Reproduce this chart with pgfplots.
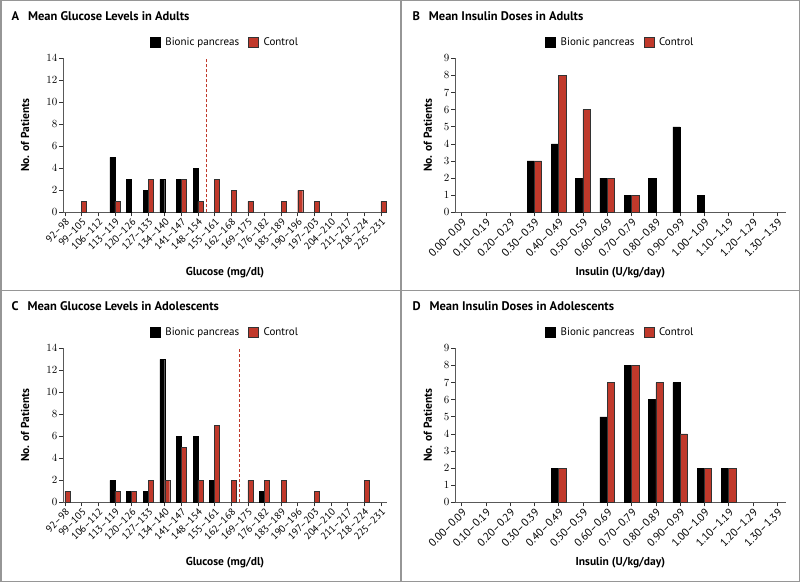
\documentclass[border=0pt]{standalone}
\usepackage{pgfplots}
\pgfplotsset{compat=1.18}
\usepackage{fontspec}
\setmainfont{PT Sans}
\definecolor{ctrl}{RGB}{192,57,43}
\definecolor{framegray}{RGB}{150,150,150}

\pgfplotsset{
  panel/.style={
    scale only axis, height=154pt, ybar=0pt, bar width=0.3,
    ymin=0, enlargelimits=false,
    axis lines=left, axis line style={-, black!65, line width=0.8pt},
    tick style={black!80, line width=0.6pt}, tick align=outside, major tick length=4pt,
    tick label style={font=\fontsize{11}{12}\selectfont},
    yticklabel style={inner sep=1.5pt},
    xticklabel style={rotate=45, anchor=north east, inner sep=1pt},
    xlabel style={font=\bfseries\fontsize{11.5}{13}\selectfont, at={(axis description cs:0.5,0)}, anchor=center, yshift=-60pt},
    ylabel style={font=\bfseries\fontsize{11.5}{13}\selectfont, anchor=center},
    legend style={at={(0.5,1)}, anchor=center, yshift=16pt, draw=none, fill=none,
      font=\fontsize{11}{13}\selectfont,
      /tikz/every even column/.append style={column sep=7pt},
      /tikz/every odd column/.append style={column sep=3pt}},
    legend columns=2,
    legend image code/.code={\draw[#1] (0pt,-5pt) rectangle (10pt,5pt);},
  },
  glucose/.style={panel, width=324pt, xmin=-0.12, xmax=19.37, ymax=14,
    ytick={0,2,...,14}, xtick={0,...,19},
    xticklabel style={font=\fontsize{10}{11}\selectfont},
    xticklabels={92--98,99--105,106--112,113--119,120--126,127--133,134--140,141--147,148--154,155--161,162--168,169--175,176--182,183--189,190--196,197--203,204--210,211--217,218--224,225--231},
    xlabel={Glucose (mg/dl)}, ylabel={No. of Patients},
    ylabel style={at={(axis description cs:-0.117,0.5)}}},
  insulin/.style={panel, width=330.7pt, xmin=-0.27, xmax=13.35, ymax=9,
    ytick={0,1,...,9}, xtick={0,...,13},
    xticklabels={0.00--0.09,0.10--0.19,0.20--0.29,0.30--0.39,0.40--0.49,0.50--0.59,0.60--0.69,0.70--0.79,0.80--0.89,0.90--0.99,1.00--1.09,1.10--1.19,1.20--1.29,1.30--1.39},
    xlabel={Insulin (U/kg/day)}, ylabel={No. of Patients},
    ylabel style={at={(axis description cs:-0.082,0.5)}}},
  bion/.style={fill=black, draw=black, line width=0.4pt},
  ctl/.style={fill=ctrl, draw=black!80, line width=0.4pt},
}

\begin{document}
\begin{tikzpicture}
\useasboundingbox (0,0) rectangle (800pt,582pt);
\draw[framegray, line width=1.5pt] (0.75pt,0.75pt) rectangle (799.25pt,581.25pt);
\draw[framegray, line width=1.5pt] (401pt,0pt) -- (401pt,582pt);
\draw[framegray, line width=1.5pt] (0pt,291.3pt) -- (800pt,291.3pt);

\node[anchor=west, font=\bfseries\fontsize{12.5}{14}\selectfont] at (8pt,566pt) {A\hspace{9pt}Mean Glucose Levels in Adults};
\node[anchor=west, font=\bfseries\fontsize{12.5}{14}\selectfont] at (409pt,566pt) {B\hspace{9pt}Mean Insulin Doses in Adults};
\node[anchor=west, font=\bfseries\fontsize{12.5}{14}\selectfont] at (8pt,276pt) {C\hspace{9pt}Mean Glucose Levels in Adolescents};
\node[anchor=west, font=\bfseries\fontsize{12.5}{14}\selectfont] at (409pt,276pt) {D\hspace{9pt}Mean Insulin Doses in Adolescents};

% Panel A
\begin{axis}[glucose, at={(63pt,369.7pt)}, anchor=south west]
\addplot[bion] coordinates {(3,5)(4,3)(5,2)(6,3)(7,3)(8,4)};
\addplot[ctl] coordinates {(1,1)(3,1)(5,3)(7,3)(8,1)(9,3)(10,2)(11,1)(13,1)(14,2)(15,1)(19,1)};
\legend{Bionic pancreas, Control}
\draw[ctrl, dash pattern=on 3pt off 2pt, line width=0.8pt] (axis cs:8.5,0) -- (axis cs:8.5,14);
\end{axis}

% Panel B
\begin{axis}[insulin, at={(455pt,369.7pt)}, anchor=south west]
\addplot[bion] coordinates {(3,3)(4,4)(5,2)(6,2)(7,1)(8,2)(9,5)(10,1)};
\addplot[ctl] coordinates {(3,3)(4,8)(5,6)(6,2)(7,1)};
\legend{Bionic pancreas, Control}
\end{axis}

% Panel C
\begin{axis}[glucose, at={(63pt,79.7pt)}, anchor=south west]
\addplot[bion] coordinates {(3,2)(4,1)(5,1)(6,13)(7,6)(8,6)(9,2)(12,1)};
\addplot[ctl] coordinates {(0,1)(3,1)(4,1)(5,2)(6,2)(7,5)(8,2)(9,7)(10,2)(11,2)(12,2)(13,2)(15,1)(18,2)};
\legend{Bionic pancreas, Control}
\draw[ctrl, dash pattern=on 3pt off 2pt, line width=0.9pt] (axis cs:10.47,0) -- (axis cs:10.47,14);
\end{axis}

% Panel D
\begin{axis}[insulin, at={(455pt,79.7pt)}, anchor=south west]
\addplot[bion] coordinates {(4,2)(6,5)(7,8)(8,6)(9,7)(10,2)(11,2)};
\addplot[ctl] coordinates {(4,2)(6,7)(7,8)(8,7)(9,4)(10,2)(11,2)};
\legend{Bionic pancreas, Control}
\end{axis}
\end{tikzpicture}
\end{document}
